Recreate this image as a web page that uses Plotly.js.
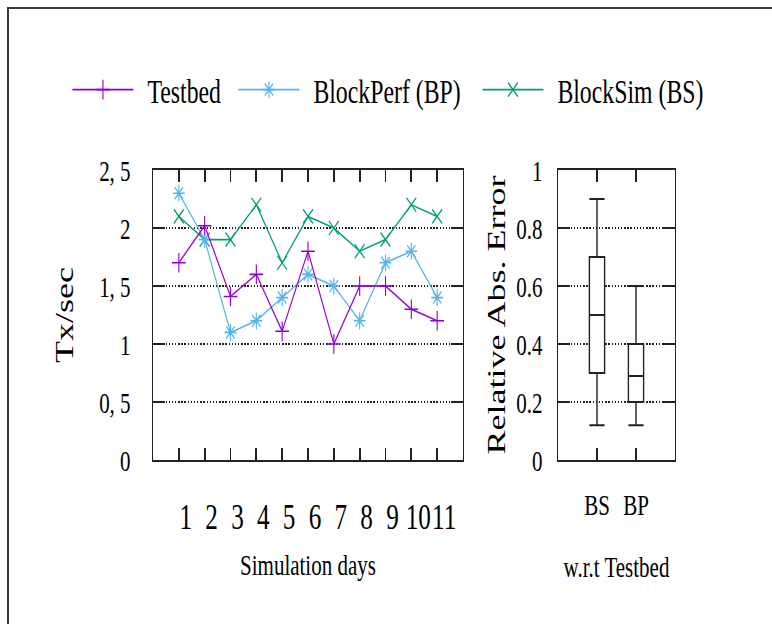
<!DOCTYPE html>
<html>
<head>
<meta charset="utf-8">
<script src="https://cdn.plot.ly/plotly-3.0.1.min.js"></script>
<style>
  html, body { margin:0; padding:0; background:#fff; }
  body { width:772px; height:624px; overflow:hidden; position:relative; }
  #frame { position:absolute; left:7px; top:7px; width:800px; height:700px;
           border-top:2px solid #3a3a3a; border-left:2px solid #3a3a3a; }
  #chart { position:absolute; left:0; top:0; width:1103px; height:624px;
           transform:scaleX(0.69991); transform-origin:0 0; }
</style>
</head>
<body>
<div id="chart"></div>
<div id="frame"></div>
<script>
// ---- data ----
const days = [1, 2, 3, 4, 5, 6, 7, 8, 9, 10, 11];
const dayLabels = ['1', '2', '3', '4', '5', '6', '7', '8', '9', '10', '11'];
const testbed   = [1.70, 2.02, 1.41, 1.60, 1.11, 1.80, 1.00, 1.50, 1.50, 1.30, 1.20];
const blockPerf = [2.30, 1.90, 1.10, 1.20, 1.40, 1.60, 1.50, 1.20, 1.70, 1.80, 1.40];
const blockSim  = [2.10, 1.90, 1.90, 2.20, 1.70, 2.10, 2.00, 1.80, 1.90, 2.20, 2.10];

const txTicks  = [0, 0.5, 1, 1.5, 2, 2.5];
const txLabels = ['0', '0, 5', '1', '1, 5', '2', '2, 5'];

const boxCats = ['BS', 'BP'];
const boxLow  = [0.12, 0.12];
const boxQ1   = [0.30, 0.20];
const boxMed  = [0.50, 0.29];
const boxQ3   = [0.70, 0.40];
const boxHigh = [0.90, 0.60];

const errTicks  = [0, 0.2, 0.4, 0.6, 0.8, 1];
const errLabels = ['0', '0.2', '0.4', '0.6', '0.8', '1'];

// ---- styling ----
const FONT = 'Liberation Serif, Times New Roman, serif';
const INK = '#222';
const PURPLE = '#9400D3', BLUE = '#56B4E9', GREEN = '#009E73';

function lineTrace(name, y, color, symbol, legendId) {
  return {
    type: 'scatter', mode: 'lines+markers', name: name,
    x: days, y: y, xaxis: 'x', yaxis: 'y', legend: legendId,
    line: { color: color, width: 1.6 },
    marker: { symbol: symbol, size: 14, color: color, line: { color: color, width: 1.6 } }
  };
}

const traces = [
  lineTrace('BlockSim (BS)', blockSim, GREEN, 'x-thin', 'legend3'),
  lineTrace('BlockPerf (BP)', blockPerf, BLUE, 'asterisk-open', 'legend2'),
  lineTrace('Testbed', testbed, PURPLE, 'cross-thin', 'legend'),
  {
    type: 'box', x: boxCats, q1: boxQ1, median: boxMed, q3: boxQ3,
    lowerfence: boxLow, upperfence: boxHigh,
    xaxis: 'x2', yaxis: 'y2', showlegend: false, boxpoints: false,
    width: 0.39, whiskerwidth: 1,
    fillcolor: '#ffffff', line: { color: INK, width: 2 }
  }
];

const axisCommon = {
  showline: true, linecolor: INK, linewidth: 2, mirror: 'ticks',
  ticks: 'inside', tickcolor: INK, zeroline: false, automargin: false,
  fixedrange: true
};

function legendBox(xpx) {
  return {
    x: xpx / 772, y: 1 - 90 / 624, xanchor: 'left', yanchor: 'middle',
    orientation: 'h', bgcolor: 'rgba(0,0,0,0)', borderwidth: 0,
    font: { family: FONT, size: 34, color: '#000' }, itemwidth: 102
  };
}

const layout = {
  width: 1103, height: 624,
  margin: { l: 0, r: 0, t: 0, b: 0 },
  paper_bgcolor: '#fff', plot_bgcolor: '#fff',
  font: { family: FONT, color: '#000' },
  showlegend: true,
  legend: legendBox(69),
  legend2: legendBox(235),
  legend3: legendBox(479),
  xaxis: Object.assign({}, axisCommon, {
    domain: [153 / 772, 463 / 772], anchor: 'y', range: [0, 12],
    tickmode: 'array', tickvals: days, ticktext: dayLabels, tickangle: 0,
    ticklen: 12, tickwidth: 2.5, showgrid: false,
    tickfont: { family: FONT, size: 36, color: '#000' },
    ticklabelstandoff: 24, ticklabelshift: 10,
    title: { text: 'Simulation days', font: { family: FONT, size: 30, color: '#000' }, standoff: 18 }
  }),
  yaxis: Object.assign({}, axisCommon, {
    domain: [1 - 460 / 624, 1 - 170 / 624], anchor: 'x', range: [0, 2.5],
    tickmode: 'array', tickvals: txTicks, ticktext: txLabels,
    ticklen: 17, tickwidth: 2,
    showgrid: true, gridcolor: INK, gridwidth: 1.5, griddash: '2px,2.5px',
    tickfont: { family: FONT, size: 30, color: '#000' },
    ticklabelstandoff: 24,
    title: { text: 'Tx/sec', font: { family: FONT, size: 36, color: '#000' }, standoff: 25 }
  }),
  xaxis2: Object.assign({}, axisCommon, {
    domain: [558 / 772, 675 / 772], anchor: 'y2', type: 'category', range: [-1, 2],
    tickangle: 0, ticklen: 12, tickwidth: 2.5, showgrid: false,
    tickfont: { family: FONT, size: 30, color: '#000' },
    ticklabelstandoff: 17,
    title: { text: 'w.r.t Testbed', font: { family: FONT, size: 30, color: '#000' }, standoff: 36 }
  }),
  yaxis2: Object.assign({}, axisCommon, {
    domain: [1 - 460 / 624, 1 - 170 / 624], anchor: 'x2', range: [0, 1],
    tickmode: 'array', tickvals: errTicks, ticktext: errLabels,
    ticklen: 17, tickwidth: 2,
    showgrid: true, gridcolor: INK, gridwidth: 1.5, griddash: '2px,2.5px',
    tickfont: { family: FONT, size: 30, color: '#000' },
    ticklabelstandoff: 14,
    title: { text: 'Relative Abs. Error', font: { family: FONT, size: 36, color: '#000' }, standoff: 5 }
  })
};

Plotly.newPlot('chart', traces, layout, { displayModeBar: false, staticPlot: true }).then(function (gd) {
  // lengthen the legend line samples to match the reference
  gd.querySelectorAll('.legendlines path').forEach(function (p) {
    p.setAttribute('d', 'M5,0h87');
  });
  gd.querySelectorAll('.legendpoints path').forEach(function (p) {
    p.setAttribute('transform', 'translate(48.5,0)');
  });
});
</script>
</body>
</html>
